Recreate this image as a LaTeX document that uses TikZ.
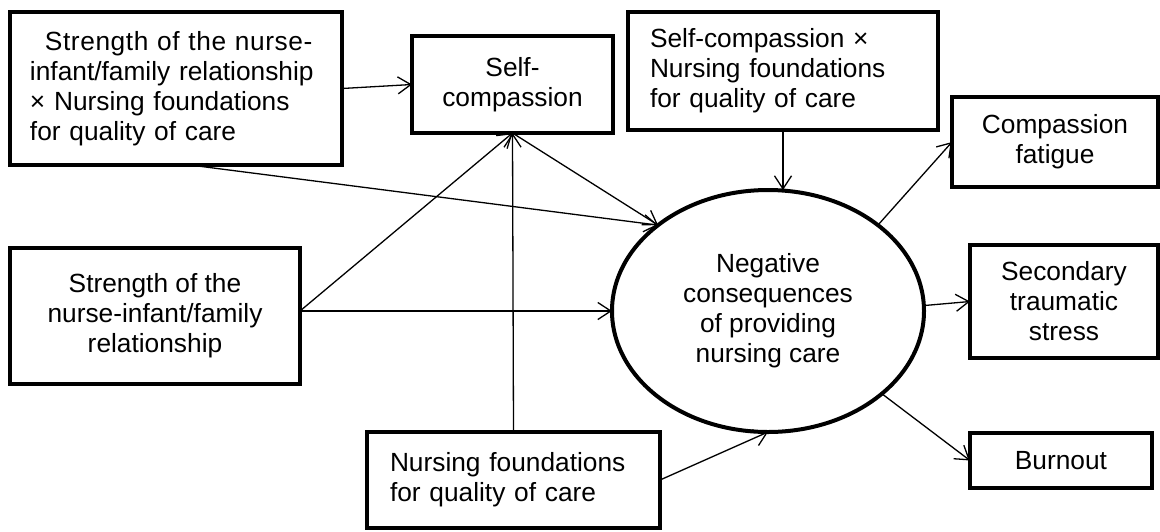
\documentclass[tikz,border=0pt]{standalone}
\usepackage{fontspec}
\setmainfont{Liberation Sans}
\usetikzlibrary{shapes.geometric,arrows.meta}
\begin{document}
\begin{tikzpicture}[x=1pt,y=-1pt,
  every node/.style={inner sep=0pt,outer sep=0pt,font=\fontsize{26.3pt}{30pt}\selectfont},
  box/.style={draw,line width=4pt,rectangle,minimum width=#1},
  latent/.style={draw,line width=4pt,ellipse,minimum width=312pt,minimum height=242pt},
  arr/.style={line width=1.3pt,-{Straight Barb[length=13pt,width=17pt,line width=1.3pt]}}]
\useasboundingbox (0,0) rectangle (1160,531);
\node[box=332pt,minimum height=153pt,text width=292pt,align=left] (A) at (176,88.5)
  {\hspace*{15pt}{\addfontfeature{LetterSpace=2.2}Strength of the nurse-}\\infant/family relationship\\× Nursing foundations\\for quality of care};
\node[box=201pt,minimum height=97pt,align=center] (SC) at (512.5,84.5) {Self-\\compassion};
\node[box=310pt,minimum height=118pt,text width=266pt,align=left] (C) at (783,71)
  {Self-compassion ×\\Nursing foundations\\for quality of care};
\node[box=206pt,minimum height=90pt,align=center] (CF) at (1055,142) {Compassion\\fatigue};
\node[box=188pt,minimum height=113pt,align=center] (STS) at (1064,301.5) {Secondary\\traumatic\\stress};
\node[box=182pt,minimum height=55pt,align=center] (BO) at (1061,460.5) {Burnout};
\node[box=290pt,minimum height=136pt,align=center] (B) at (155,316) {Strength of the\\nurse-infant/family\\relationship};
\node[box=293pt,minimum height=96pt,text width=247pt,align=left] (D) at (513.5,480) {Nursing foundations\\for quality of care};
\node[latent,align=center] (E) at (768,311) {Negative\\consequences\\of providing\\nursing care};
\coordinate (Bo) at (B.east |- E.west);
\draw[arr] (A.east) -- (SC.west);
\draw[arr] ([xshift=14pt]A.south) -- (E.142);
\draw[arr] (SC.south) -- (E.142);
\draw[arr] (Bo) -- (SC.south);
\draw[arr] (Bo) -- (E.west);
\draw[arr] (D.north) -- (SC.south);
\draw[arr] (D.east) -- (E.south);
\draw[arr] (C.south) -- (C.south |- E.north);
\draw[arr] (E.38) -- (CF.west);
\draw[arr] (E.2) -- (STS.west);
\draw[arr] (E.-36) -- (BO.west);
\end{tikzpicture}
\end{document}
